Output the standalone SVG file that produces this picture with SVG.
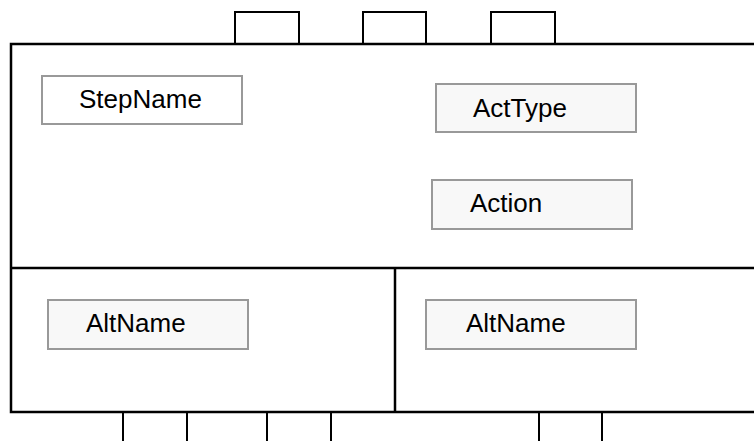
<svg xmlns="http://www.w3.org/2000/svg" width="754" height="441" viewBox="0 0 754 441">
  <style>
    .frame { fill: #ffffff; stroke: #000000; stroke-width: 2.5; }
    .rule { fill: none; stroke: #000000; stroke-width: 2.5; }
    .tab { fill: #ffffff; stroke: #000000; stroke-width: 2; }
    .stub { fill: none; stroke: #000000; stroke-width: 2; }
    .field { fill: #f8f8f8; stroke: #999999; stroke-width: 2; }
    .field.plain { fill: #ffffff; }
    .label { font-family: "Liberation Sans", Arial, Helvetica, sans-serif; font-size: 26px; fill: #000000; }
  </style>

  <rect width="754" height="441" fill="#ffffff"/>

  <!-- port tabs on the top edge -->
  <g id="tabs">
    <rect class="tab" x="235" y="12" width="64" height="32"/>
    <rect class="tab" x="363" y="12" width="63" height="32"/>
    <rect class="tab" x="491" y="12" width="64" height="32"/>
  </g>

  <!-- outer frame, open past the right edge -->
  <g id="frame">
    <rect class="frame" x="11" y="44" width="760" height="368"/>
    <line class="rule" x1="11" y1="268" x2="760" y2="268"/>
    <line class="rule" x1="395" y1="268" x2="395" y2="412"/>
  </g>

  <!-- stubs leaving the bottom edge -->
  <g id="connectors">
    <line class="stub" x1="123" y1="412" x2="123" y2="445"/>
    <line class="stub" x1="187" y1="412" x2="187" y2="445"/>
    <line class="stub" x1="267" y1="412" x2="267" y2="445"/>
    <line class="stub" x1="331" y1="412" x2="331" y2="445"/>
    <line class="stub" x1="539" y1="412" x2="539" y2="445"/>
    <line class="stub" x1="602" y1="412" x2="602" y2="445"/>
  </g>

  <g id="step-name">
    <rect class="field plain" x="42" y="76" width="200" height="48"/>
    <text class="label" x="79" y="108">StepName</text>
  </g>

  <g id="act-type">
    <rect class="field" x="436" y="84" width="200" height="48"/>
    <text class="label" x="473" y="117">ActType</text>
  </g>

  <g id="action">
    <rect class="field" x="432" y="180" width="200" height="49"/>
    <text class="label" x="470" y="212">Action</text>
  </g>

  <g id="alt-name-left">
    <rect class="field" x="48" y="300" width="200" height="49"/>
    <text class="label" x="86" y="332">AltName</text>
  </g>

  <g id="alt-name-right">
    <rect class="field" x="426" y="300" width="210" height="49"/>
    <text class="label" x="466" y="332">AltName</text>
  </g>
</svg>
